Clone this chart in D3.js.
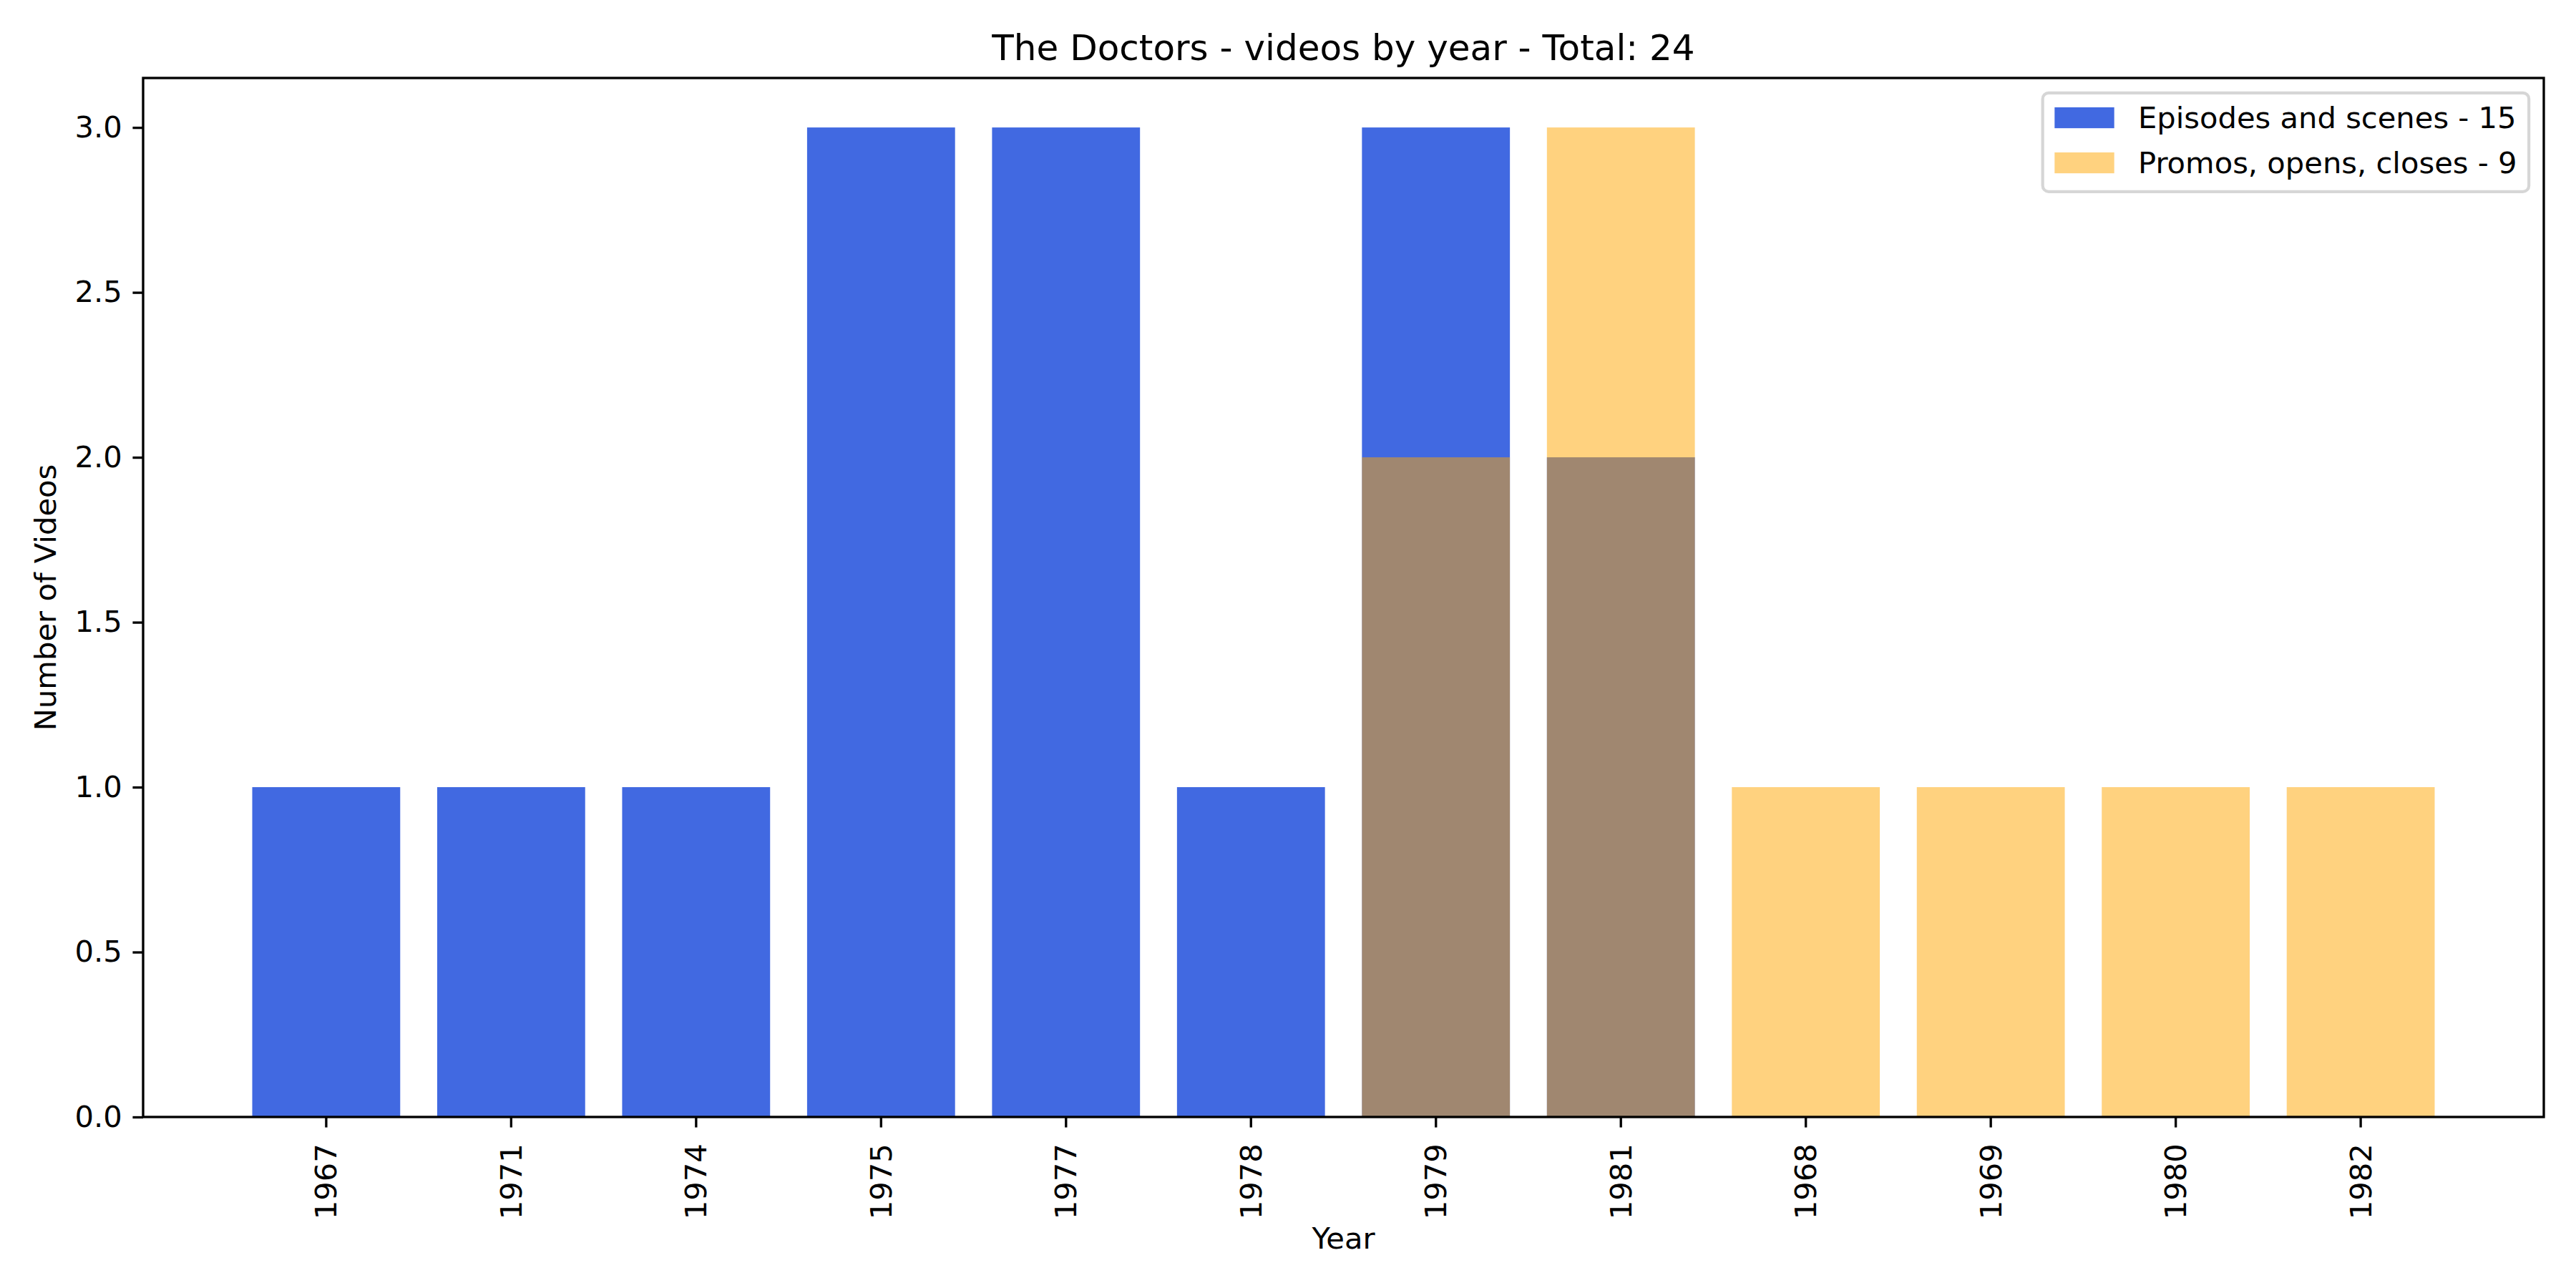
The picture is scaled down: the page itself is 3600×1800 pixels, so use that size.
<!DOCTYPE html>
<html>
<head>
<meta charset="utf-8">
<script src="https://cdn.jsdelivr.net/npm/d3@7"></script>
<style>
  body { margin: 0; background: #fff; }
  svg text { font-family: "DejaVu Sans", sans-serif; }
</style>
</head>
<body>
<div id="chart"></div>
<script>
const episodeYears = ["1967", "1971", "1974", "1975", "1977", "1978", "1979", "1981"];
const episodeCounts = [1, 1, 1, 3, 3, 1, 3, 2];
const promoYears = ["1979", "1981", "1968", "1969", "1980", "1982"];
const promoCounts = [2, 3, 1, 1, 1, 1];
const yTicks = [0, 0.5, 1.0, 1.5, 2.0, 2.5, 3.0];

function drawVideosByYear(containerId) {
    const width = 3600;
    const height = 1800;
    const margin = { top: 109, right: 45, bottom: 239, left: 200 };
    const innerWidth = width - margin.left - margin.right;
    const innerHeight = height - margin.top - margin.bottom;
    const pt = 300 / 72; // matplotlib points -> px at 300 dpi
    const fs = 10 * pt;

    const nEp = d3.sum(episodeCounts);
    const nPr = d3.sum(promoCounts);

    // categories in order of first appearance
    const categories = [];
    episodeYears.concat(promoYears).forEach(y => { if (!categories.includes(y)) categories.push(y); });

    const svg = d3.select(containerId).append("svg")
        .attr("width", width).attr("height", height)
        .style("background", "#fff");

    const g = svg.append("g").attr("transform", `translate(${margin.left},${margin.top})`);

    const x = d3.scaleBand().domain(categories).range([0, innerWidth])
        .paddingInner(0.2).paddingOuter(0.59);
    const y = d3.scaleLinear().domain([0, 3.15]).range([innerHeight, 0]);

    const epData = episodeYears.map((d, i) => ({ year: d, v: episodeCounts[i] }));
    const prData = promoYears.map((d, i) => ({ year: d, v: promoCounts[i] }));

    g.selectAll(".bar-ep").data(epData).join("rect")
        .attr("class", "bar-ep")
        .attr("x", d => x(d.year)).attr("width", x.bandwidth())
        .attr("y", d => y(d.v)).attr("height", d => y(0) - y(d.v))
        .attr("fill", "#4169e1");

    g.selectAll(".bar-pr").data(prData).join("rect")
        .attr("class", "bar-pr")
        .attr("x", d => x(d.year)).attr("width", x.bandwidth())
        .attr("y", d => y(d.v)).attr("height", d => y(0) - y(d.v))
        .attr("fill", "#ffa500").attr("fill-opacity", 0.5);

    const tickLen = 3.5 * pt;
    const tickPad = 3.5 * pt;
    const lw = 0.8 * pt;

    // x axis
    const xAxis = g.append("g").attr("transform", `translate(0,${innerHeight})`)
        .call(d3.axisBottom(x).tickSize(tickLen).tickSizeOuter(0));
    xAxis.select(".domain").remove();
    xAxis.selectAll(".tick line").attr("stroke", "#000").attr("stroke-width", lw);
    xAxis.selectAll(".tick text")
        .attr("transform", "rotate(-90)")
        .attr("text-anchor", "end")
        .attr("x", -(tickLen + tickPad + 8))
        .attr("y", 0)
        .attr("dy", "0.35em")
        .attr("fill", "#000")
        .style("font-size", fs + "px");

    // y axis
    const yAxis = g.append("g")
        .call(d3.axisLeft(y).tickValues(yTicks).tickFormat(d3.format(".1f"))
            .tickSize(tickLen).tickPadding(tickPad));
    yAxis.select(".domain").remove();
    yAxis.selectAll(".tick line").attr("stroke", "#000").attr("stroke-width", lw);
    yAxis.selectAll(".tick text").attr("fill", "#000").style("font-size", fs + "px");

    // frame
    g.append("rect").attr("width", innerWidth).attr("height", innerHeight)
        .attr("fill", "none").attr("stroke", "#000").attr("stroke-width", lw);

    // titles
    svg.append("text").attr("x", margin.left + innerWidth / 2).attr("y", margin.top - 6 * pt)
        .attr("text-anchor", "middle").style("font-size", (12 * pt) + "px")
        .text(`The Doctors - videos by year - Total: ${nEp + nPr}`);

    svg.append("text").attr("x", margin.left + innerWidth / 2).attr("y", 1745)
        .attr("text-anchor", "middle").style("font-size", fs + "px")
        .text("Year");

    svg.append("text")
        .attr("transform", `translate(78,${margin.top + innerHeight / 2}) rotate(-90)`)
        .attr("text-anchor", "middle").style("font-size", fs + "px")
        .text("Number of Videos");

    // legend
    const legItems = [
        { l: `Episodes and scenes - ${nEp}`, c: "#4169e1", o: 1 },
        { l: `Promos, opens, closes - ${nPr}`, c: "#ffa500", o: 0.5 }
    ];
    const leg = svg.append("g");
    const box = leg.append("rect").attr("rx", 0.2 * fs).attr("ry", 0.2 * fs)
        .attr("fill", "#fff").attr("fill-opacity", 0.8)
        .attr("stroke", "#cccccc").attr("stroke-opacity", 0.8).attr("stroke-width", pt);

    const rowGap = 63;
    const items = leg.selectAll(".leg-item").data(legItems).join("g")
        .attr("class", "leg-item")
        .attr("transform", (d, i) => `translate(0,${i * rowGap})`);
    items.append("rect").attr("x", 0).attr("y", 0)
        .attr("width", 2 * fs).attr("height", 0.7 * fs)
        .attr("fill", d => d.c).attr("fill-opacity", d => d.o);
    items.append("text").attr("x", 2 * fs + 0.8 * fs).attr("y", 0.7 * fs)
        .style("font-size", fs + "px").text(d => d.l);

    const maxText = d3.max(items.selectAll("text").nodes(), n => n.getComputedTextLength());
    const pad = 0.4 * fs;
    const boxW = pad * 2 + 2.8 * fs + maxText;
    const boxH = 138;
    const boxRight = margin.left + innerWidth - 0.5 * fs;
    const boxTop = margin.top + 0.5 * fs;
    box.attr("x", boxRight - boxW).attr("y", boxTop).attr("width", boxW).attr("height", boxH);
    items.attr("transform", (d, i) => `translate(${boxRight - boxW + pad},${150 + i * rowGap})`);
}

drawVideosByYear("#chart");
</script>
</body>
</html>
